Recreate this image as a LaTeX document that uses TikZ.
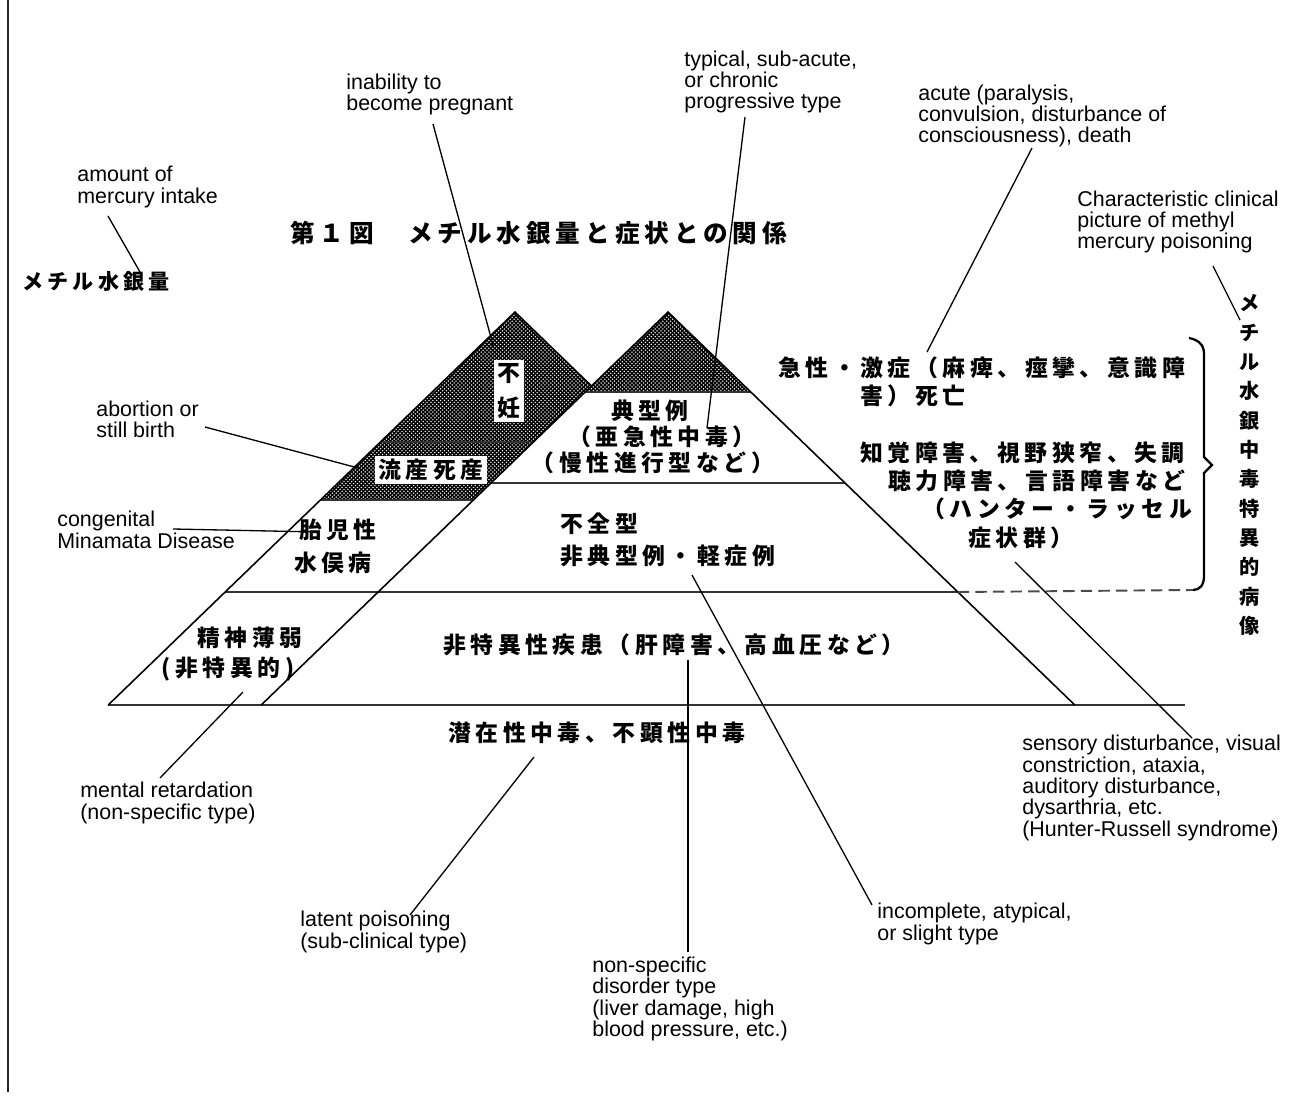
\documentclass[tikz,border=0pt]{standalone}
\usepackage{fontspec}
\setmainfont{Liberation Sans}
\newfontfamily\jp[LetterSpace=20]{Noto Sans CJK JP}
\newfontfamily\jpv{Noto Sans CJK JP}
\usetikzlibrary{patterns}

% dense cross hatching for the shaded caps
\pgfdeclarepatternformonly{densecross}{\pgfqpoint{-0.2pt}{-0.2pt}}{\pgfqpoint{2.4pt}{2.4pt}}{\pgfqpoint{2.2pt}{2.2pt}}{%
  \pgfsetlinewidth{0.75pt}%
  \pgfpathmoveto{\pgfqpoint{-0.1pt}{-0.1pt}}\pgfpathlineto{\pgfqpoint{2.3pt}{2.3pt}}%
  \pgfpathmoveto{\pgfqpoint{-0.1pt}{2.3pt}}\pgfpathlineto{\pgfqpoint{2.3pt}{-0.1pt}}%
  \pgfusepath{stroke}}

\tikzset{
  en/.style={font=\fontsize{12.2}{12.2}\selectfont, align=left, anchor=west, inner sep=0pt},
  jt/.style={font=\jp\bfseries\fontsize{13}{15}\selectfont, inner sep=0pt},
  jvert/.style={font=\jpv\bfseries\fontsize{13}{19.8}\selectfont, align=center},
  leader/.style={line width=0.75pt},
  pedge/.style={line width=0.9pt},
  tier/.style={line width=1.4pt, black!80},
  hatch/.style={pattern=densecross},
  whitebox/.style={fill=white, inner sep=2pt},
}

\begin{document}
\begin{tikzpicture}[x=0.02cm, y=-0.02cm]
\useasboundingbox (0,0) rectangle (1316,1102);
\fill[white] (0,0) rectangle (1316,1102);

% page edge rule
\draw[line width=1.5pt, black!85] (8,0) -- (8,1092);

% corner points of the two pyramids
\coordinate (LA) at (515,312);
\coordinate (LX) at (591.5,386);
\coordinate (L442) at (380.5,442);
\coordinate (L500) at (320.4,500);
\coordinate (L592) at (225.2,592);
\coordinate (L705) at (108.2,705);
\coordinate (RA) at (668,312);
\coordinate (R392l) at (585.2,392);
\coordinate (R392r) at (750.8,392);
\coordinate (R442l) at (533.5,442);
\coordinate (R483l) at (491,483);
\coordinate (R483r) at (845,483);
\coordinate (R500l) at (473.4,500);
\coordinate (R592r) at (957.8,592);
\coordinate (R705l) at (261.2,705);
\coordinate (R705r) at (1074.8,705);
\coordinate (baseEnd) at (1185,705);

% shaded caps
\fill[hatch] (LA) -- (LX) -- (R500l) -- (L500) -- cycle;
\fill[hatch] (RA) -- (R392r) -- (R392l) -- cycle;

% tier lines and ground line
\draw[tier] (L442) -- (R442l);
\draw[tier] (L500) -- (R500l);
\draw[tier] (R392l) -- (R392r);
\draw[tier] (R483l) -- (R483r);
\draw[tier] (L592) -- (R592r);
\draw[tier] (L705) -- (baseEnd);

% pyramid outlines
\draw[pedge] (L705) -- (LA) -- (LX);
\draw[pedge] (R705l) -- (RA) -- (R705r);

% brace grouping the characteristic symptoms
\coordinate (brTop) at (1189,338);
\coordinate (brFoot) at (1193,590);
\draw[line width=1.3pt] (brTop) .. controls (1199,340) and (1204,345) .. (1204,354)
  -- (1204,457) -- (1212,465) -- (1204,473) -- (1204,576)
  .. controls (1204,585) and (1200,590) .. (brFoot);
\draw[line width=1.1pt, black!70, dash pattern=on 6.5pt off 3.5pt] (R592r) -- (brFoot);

% Japanese labels
\node[font=\jp\bfseries\fontsize{14}{16}\selectfont, anchor=west, inner sep=0pt] (title) at (290,233) {第１図　メチル水銀量と症状との関係};
\node[font=\jp\bfseries\fontsize{12}{14}\selectfont, anchor=west, inner sep=0pt] (mq) at (22,282) {メチル水銀量};

\node[jvert, whitebox] (inf) at (509,391) {不\\妊};
\node[jt, whitebox] (abo) at (431,470) {流産死産};

\node[jt] (typ1) at (650,411) {典型例};
\node[jt] (typ2) at (662,437) {（亜急性中毒）};
\node[jt] (typ3) at (653,463) {（慢性進行型など）};

\node[jt, anchor=west] (inc1) at (560,524) {不全型};
\node[jt, anchor=west] (inc2) at (560,556) {非典型例・軽症例};

\node[jt] (cong1) at (338,530) {胎児性};
\node[jt] (cong2) at (333,563) {水俣病};

\node[jt] (men1) at (250,638) {精神薄弱};
\node[jt] (men2) at (228,669) {(非特異的)};

\node[jt, anchor=west] (nsd) at (443,645) {非特異性疾患（肝障害、高血圧など）};
\node[jt, anchor=west] (lat) at (448,733) {潜在性中毒、不顕性中毒};

\node[jt, anchor=west] (acute1) at (778,368) {急性・激症（麻痺、痙攣、意識障};
\node[jt, anchor=west] (acute2) at (860,396) {害）死亡};
\node[jt, anchor=west] (hr1) at (860,453) {知覚障害、視野狭窄、失調};
\node[jt, anchor=west] (hr2) at (888,481) {聴力障害、言語障害など};
\node[jt, anchor=west] (hr3) at (922,509) {（ハンター・ラッセル};
\node[jt, anchor=west] (hr4) at (968,538) {症状群）};

\node[font=\jpv\bfseries\fontsize{11.5}{16.7}\selectfont, align=center, inner sep=0pt] (vert) at (1250,465)
  {メ\\チ\\ル\\水\\銀\\中\\毒\\特\\異\\的\\病\\像};

% English glosses
\node[en] (eAmount) at (77,187) {amount of\\mercury intake};
\node[en] (eInab) at (346,94.5) {inability to\\become pregnant};
\node[en] (eTyp) at (684,82) {typical, sub-acute,\\or chronic\\progressive type};
\node[en] (eAcute) at (918,116) {acute (paralysis,\\convulsion, disturbance of\\consciousness), death};
\node[en] (eChar) at (1077,222) {Characteristic clinical\\picture of methyl\\mercury poisoning};
\node[en] (eAbo) at (96,419.5) {abortion or\\still birth};
\node[en] (eCong) at (57,530) {congenital\\Minamata Disease};
\node[en] (eMent) at (80,803) {mental retardation\\(non-specific type)};
\node[en] (eLat) at (300,932) {latent poisoning\\(sub-clinical type)};
\node[en] (eNsd) at (592,999) {non-specific\\disorder type\\(liver damage, high\\blood pressure, etc.)};
\node[en] (eInc) at (877,924) {incomplete, atypical,\\or slight type};
\node[en] (eSens) at (1022,788) {sensory disturbance, visual\\constriction, ataxia,\\auditory disturbance,\\dysarthria, etc.\\(Hunter-Russell syndrome)};

% leader line end points
\coordinate (amtFoot) at (108,216);   \coordinate (amtTip) at (140,272);
\coordinate (inabFoot) at (433,124);  \coordinate (inabTip) at (493,345);
\coordinate (typFoot) at (745,117);   \coordinate (typTip) at (707,428);
\coordinate (acuFoot) at (1032,148);  \coordinate (acuTip) at (927,352);
\coordinate (chrFoot) at (1213,266);  \coordinate (chrTip) at (1240,320);
\coordinate (aboFoot) at (205,427);   \coordinate (aboTip) at (358,468);
\coordinate (conFoot) at (173,529);   \coordinate (conTip) at (318,532);
\coordinate (menFoot) at (160,778);   \coordinate (menTip) at (243,692);
\coordinate (latFoot) at (410,915);   \coordinate (latTip) at (534,757);
\coordinate (nsdFoot) at (688,952);   \coordinate (nsdTip) at (688,660);
\coordinate (incFoot) at (872,905);   \coordinate (incTip) at (692,575);
\coordinate (senFoot) at (1192,738);  \coordinate (senTip) at (1015,562);

% leader lines
\draw[leader] (amtFoot) -- (amtTip);
\draw[leader] (inabFoot) -- (inabTip);
\draw[leader] (typFoot) -- (typTip);
\draw[leader] (acuFoot) -- (acuTip);
\draw[leader] (chrFoot) -- (chrTip);
\draw[leader] (aboFoot) -- (aboTip);
\draw[leader] (conFoot) -- (conTip);
\draw[leader] (menFoot) -- (menTip);
\draw[leader] (latFoot) -- (latTip);
\draw[leader] (nsdFoot) -- (nsdTip);
\draw[leader] (incFoot) -- (incTip);
\draw[leader] (senFoot) -- (senTip);
\end{tikzpicture}
\end{document}
